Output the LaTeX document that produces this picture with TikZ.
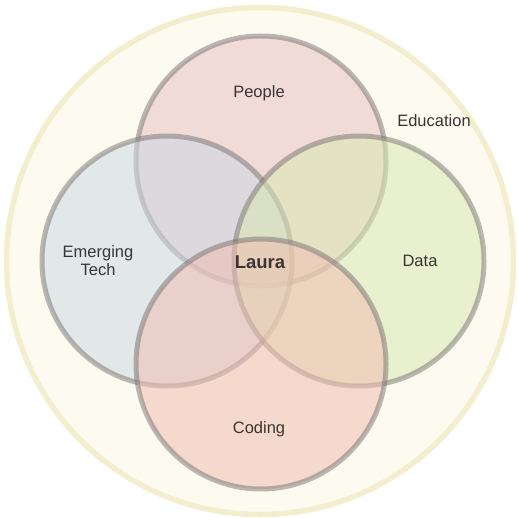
\documentclass[tikz,border=0pt]{standalone}
\usepackage{fontspec}
\setmainfont{Liberation Sans}
\definecolor{edcream}{RGB}{253,251,240}
\definecolor{edyellow}{RGB}{243,238,205}
\definecolor{vnedge}{RGB}{120,114,114}
\definecolor{vnpink}{RGB}{230,194,196}
\definecolor{vnblue}{RGB}{205,215,226}
\definecolor{vngreen}{RGB}{218,232,178}
\definecolor{vnsalmon}{RGB}{240,190,178}
\definecolor{vntext}{RGB}{60,52,52}

\begin{document}
\begin{tikzpicture}[x=1pt,y=-1pt,
  set/.style={circle,draw=vnedge,draw opacity=0.5,line width=5pt,fill opacity=0.55,minimum size=250pt,inner sep=0pt},
  lbl/.style={font=\fontsize{16.5}{18}\selectfont,text=vntext,align=center}]
  \useasboundingbox (0,0) rectangle (518,518);
  \node[circle,draw=edyellow,fill=edcream,line width=5.5pt,minimum size=507pt,inner sep=0pt] (edu) at (260,261) {};
  \node[set,fill=vnpink] (people) at (261,161) {};
  \node[set,fill=vnblue] (tech) at (167,261) {};
  \node[set,fill=vngreen] (data) at (359,261) {};
  \node[set,fill=vnsalmon] (coding) at (261,364) {};
  \node[lbl] (peoplelbl) at (259,93) {People};
  \node[lbl] (edulbl) at (434,121) {Education};
  \node[lbl] (techlbl) at (98,261) {Emerging\\Tech};
  \node[lbl] (datalbl) at (420,261) {Data};
  \node[lbl] (codinglbl) at (259,429) {Coding};
  \node[lbl,font=\fontsize{18.5}{20}\selectfont\bfseries] (laura) at (260,262) {Laura};
\end{tikzpicture}
\end{document}
